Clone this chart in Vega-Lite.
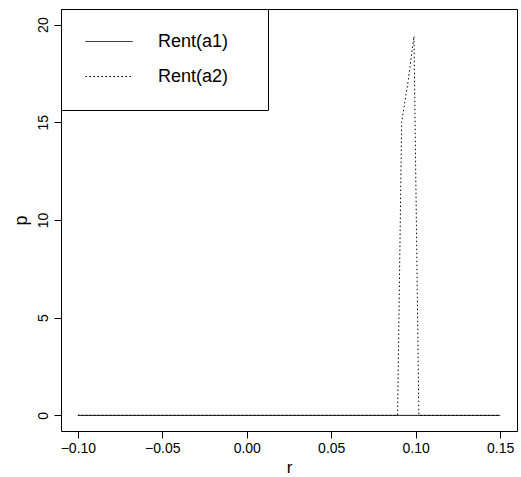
{
  "$schema": "https://vega.github.io/schema/vega-lite/v6.json",
  "width": 456,
  "height": 422,
  "autosize": {"type": "none"},
  "padding": {"left": 61, "top": 9, "right": 4, "bottom": 46},
  "background": "white",
  "config": {
    "view": {"stroke": "black", "strokeWidth": 1},
    "font": "Liberation Sans"
  },
  "data": {
    "values": [
      {"r": -0.1, "p": 0, "series": "Rent(a1)"},
      {"r": 0.15, "p": 0, "series": "Rent(a1)"},
      {"r": -0.1, "p": 0, "series": "Rent(a2)"},
      {"r": 0.0893, "p": 0, "series": "Rent(a2)"},
      {"r": 0.0917, "p": 15.0, "series": "Rent(a2)"},
      {"r": 0.0957, "p": 17.2, "series": "Rent(a2)"},
      {"r": 0.099, "p": 19.4, "series": "Rent(a2)"},
      {"r": 0.1019, "p": 0, "series": "Rent(a2)"},
      {"r": 0.15, "p": 0, "series": "Rent(a2)"}
    ]
  },
  "mark": {"type": "line", "strokeWidth": 1, "color": "black"},
  "encoding": {
    "x": {
      "field": "r",
      "type": "quantitative",
      "scale": {"domain": [-0.11, 0.16], "nice": false, "zero": false},
      "axis": {
        "values": [-0.1, -0.05, 0, 0.05, 0.1, 0.15],
        "format": ".2f",
        "grid": false,
        "domain": false,
        "tickColor": "black",
        "tickSize": 7,
        "labelFontSize": 14,
        "labelColor": "black",
        "labelPadding": 3,
        "labelFlush": false,
        "labelOverlap": false,
        "title": "r",
        "titleFontSize": 17,
        "titleFontWeight": "normal",
        "titleColor": "black",
        "titlePadding": 4
      }
    },
    "y": {
      "field": "p",
      "type": "quantitative",
      "scale": {"domain": [-0.8, 20.8], "nice": false, "zero": false},
      "axis": {
        "values": [0, 5, 10, 15, 20],
        "grid": false,
        "domain": false,
        "tickColor": "black",
        "tickSize": 7,
        "labelFontSize": 14,
        "labelColor": "black",
        "labelAngle": -90,
        "labelAlign": "center",
        "labelBaseline": "bottom",
        "labelPadding": 4,
        "labelFlush": false,
        "labelOverlap": false,
        "title": "p",
        "titleFontSize": 18,
        "titleFontWeight": "normal",
        "titleColor": "black",
        "titlePadding": 6
      }
    },
    "strokeDash": {
      "field": "series",
      "type": "nominal",
      "scale": {"domain": ["Rent(a1)", "Rent(a2)"], "range": [[1, 0], [1.5, 2.5]]},
      "legend": {
        "orient": "top-left",
        "offset": 0,
        "title": null,
        "strokeColor": "black",
        "fillColor": "white",
        "padding": 24,
        "symbolType": "stroke",
        "symbolSize": 2209,
        "symbolStrokeWidth": 1,
        "symbolStrokeColor": "black",
        "labelFontSize": 18,
        "labelColor": "black",
        "labelOffset": 25,
        "rowPadding": 16,
        "clipHeight": 17,
        "labelExpr": "datum.label + '\u00a0\u00a0\u00a0\u200b'"
      }
    }
  }
}
